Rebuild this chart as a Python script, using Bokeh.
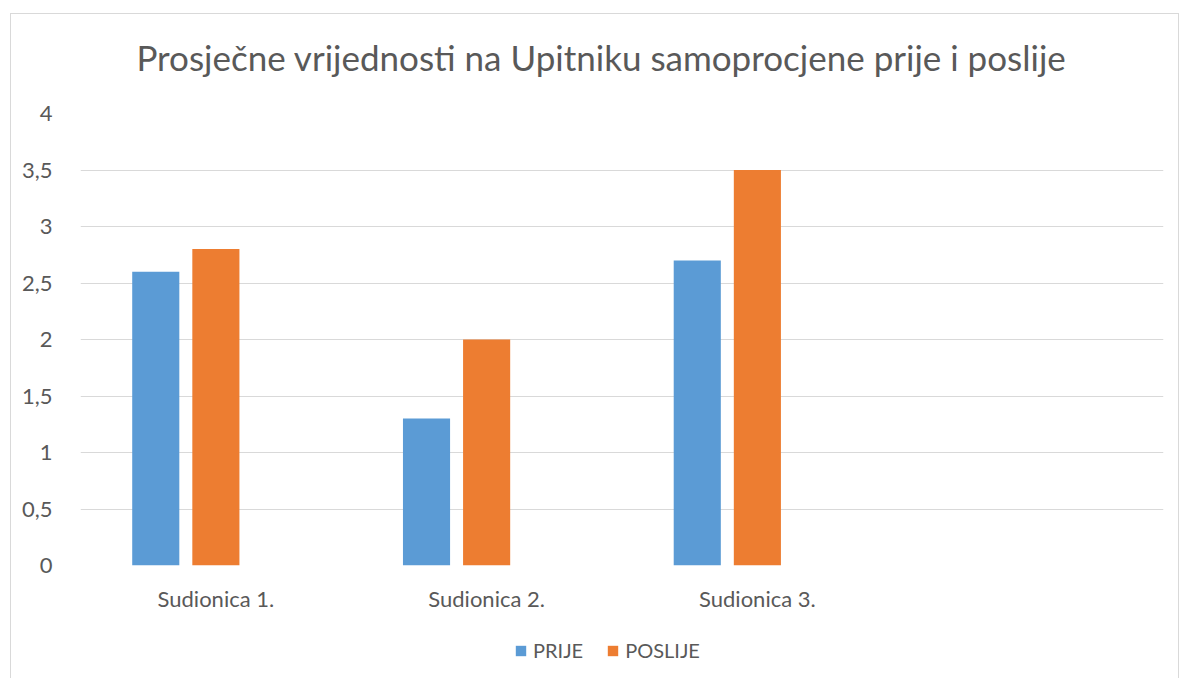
from bokeh.plotting import figure
from bokeh.layouts import column
from bokeh.models import (FactorRange, Range1d, FixedTicker, Legend, LegendItem,
                          ColumnDataSource, Label)
from bokeh.transform import dodge
from bokeh.embed import file_html
from bokeh.resources import INLINE

categories = ["Sudionica 1.", "Sudionica 2.", "Sudionica 3.", " "]
prije = [2.6, 1.3, 2.7, None]
poslije = [2.8, 2.0, 3.5, None]
y_ticks = [0, 0.5, 1, 1.5, 2, 2.5, 3, 3.5, 4]
y_labels = ["0", "0,5", "1", "1,5", "2", "2,5", "3", "3,5", "4"]
series_names = ["PRIJE", "POSLIJE"]
series_colors = ["#5B9BD5", "#ED7D31"]
title_text = "Prosječne vrijednosti na Upitniku samoprocjene prije i poslije"

src = ColumnDataSource(dict(cat=categories[:3], prije=prije[:3], poslije=poslije[:3]))

FONT = "Lato"
GRAY = "#595959"
xr = FactorRange(*categories)

# title strip (pixel-like ranges)
pt = figure(width=1167, height=79, x_range=Range1d(0, 1083), y_range=Range1d(0, 79),
            output_backend="svg", toolbar_location=None, x_axis_type=None, y_axis_type=None,
            min_border=0)
pt.outline_line_color = None
pt.grid.visible = False
pt.add_layout(Label(x=521, y=37, text=title_text, text_align="center",
                    text_baseline="alphabetic", text_font=FONT, text_font_size="35px",
                    text_color=GRAY))

p = figure(width=1167, height=527, x_range=xr, y_range=Range1d(0, 4),
           output_backend="svg", toolbar_location=None,
           min_border_left=69, min_border_right=15, min_border_top=20, min_border_bottom=55)
p.outline_line_color = None
p.background_fill_color = "white"

p.vbar(x=dodge("cat", -0.222, range=xr), top="prije", width=0.174, source=src,
       fill_color=series_colors[0], line_color=None)
p.vbar(x=dodge("cat", 0.0, range=xr), top="poslije", width=0.174, source=src,
       fill_color=series_colors[1], line_color=None)

p.xgrid.grid_line_color = None
p.ygrid.grid_line_color = "#D9D9D9"
p.ygrid.grid_line_width = 1
p.yaxis.ticker = FixedTicker(ticks=y_ticks)
p.yaxis.major_label_overrides = {t: l for t, l in zip(y_ticks, y_labels)}
for ax in (p.xaxis[0], p.yaxis[0]):
    ax.axis_line_color = None
    ax.major_tick_line_color = None
    ax.minor_tick_line_color = None
    ax.major_label_text_font = FONT
    ax.major_label_text_font_size = "22px"
    ax.major_label_text_color = GRAY
p.yaxis.major_label_standoff = 22
p.xaxis.major_label_standoff = 13

# legend strip below the chart (bars drawn there fall outside its visible y range)
pl = figure(width=1167, height=58, x_range=xr, y_range=Range1d(10, 11),
            output_backend="svg", toolbar_location=None, x_axis_type=None, y_axis_type=None,
            min_border=0)
pl.outline_line_color = None
pl.grid.visible = False
items = []
for name, col, field in zip(series_names, series_colors, ["prije", "poslije"]):
    r = pl.vbar(x="cat", top=field, width=0.1, source=src, fill_color=col, line_color=None)
    items.append(LegendItem(label=name, renderers=[r]))
legend = Legend(items=items, orientation="horizontal", location=(434, 16),
                border_line_color=None, background_fill_alpha=0,
                label_text_font=FONT, label_text_font_size="20px", label_text_color=GRAY,
                glyph_width=13, glyph_height=13, spacing=23, label_standoff=6,
                margin=0, padding=0)
pl.add_layout(legend, "center")

layout = column(pt, p, pl, spacing=0)
layout.margin = (13, 0, 0, 10)
layout.styles = {"border": "1px solid #d9d9d9"}

open("out.html", "w").write(file_html(layout, INLINE))
